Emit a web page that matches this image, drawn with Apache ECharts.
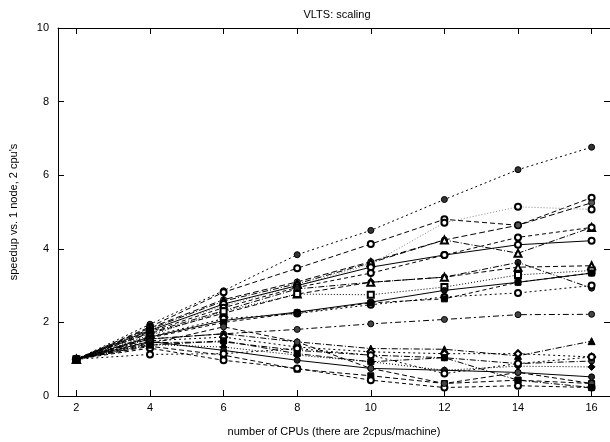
<!DOCTYPE html>
<html>
<head>
<meta charset="utf-8">
<script src="https://cdn.jsdelivr.net/npm/echarts@6/dist/echarts.min.js"></script>
<style>
html,body{margin:0;padding:0;background:#fff;}
#c{width:610px;height:442px;}
</style>
</head>
<body>
<div id="c"></div>
<script>
// CPU counts (x values) and tick labels
var cpus = [2, 4, 6, 8, 10, 12, 14, 16];
var yTicks = [0, 2, 4, 6, 8, 10];

// speedup per benchmark (one array per series)
var s01 = [1, 1.95, 2.86, 3.84, 4.50, 5.34, 6.15, 6.76];
var s02 = [1, 1.88, 2.82, 3.47, 4.13, 4.80, 4.64, 5.39];
var s03 = [1, 1.80, 2.45, 3.00, 3.58, 4.71, 5.14, 5.07];
var s04 = [1, 1.85, 2.62, 3.10, 3.65, 4.24, 4.64, 5.25];
var s05 = [1, 1.82, 2.58, 3.05, 3.62, 4.24, 3.88, 4.58];
var s06 = [1, 1.78, 2.50, 3.00, 3.50, 3.83, 4.11, 4.22];
var s07 = [1, 1.75, 2.40, 2.95, 3.34, 3.83, 4.31, 4.58];
var s08 = [1, 1.72, 2.32, 2.91, 3.09, 3.23, 3.63, 2.93];
var s09 = [1, 1.70, 2.25, 2.77, 3.09, 3.23, 3.50, 3.54];
var s10 = [1, 1.65, 2.30, 2.77, 2.75, 2.96, 3.29, 3.41];
var s11 = [1, 1.60, 2.05, 2.28, 2.55, 2.87, 3.09, 3.34];
var s12 = [1, 1.62, 2.10, 2.24, 2.48, 2.69, 2.80, 3.00];
var s13 = [1, 1.58, 2.00, 2.26, 2.53, 2.64, 3.09, 3.34];
var s14 = [1, 1.55, 1.69, 1.81, 1.96, 2.08, 2.21, 2.22];
var s15 = [1, 1.55, 1.69, 1.47, 1.29, 1.27, 1.09, 1.49];
var s16 = [1, 1.50, 1.60, 1.33, 1.20, 1.15, 1.15, 1.06];
var s17 = [1, 1.45, 1.47, 1.24, 1.11, 1.04, 0.88, 0.95];
var s18 = [1, 1.40, 1.33, 1.11, 0.93, 0.70, 0.81, 0.79];
var s19 = [1, 1.48, 1.24, 0.97, 0.75, 0.70, 0.64, 0.52];
var s20 = [1, 1.35, 1.11, 0.73, 0.55, 0.34, 0.43, 0.34];
var s21 = [1, 1.30, 0.97, 0.75, 0.43, 0.23, 0.28, 0.23];
var s22 = [1, 1.13, 1.15, 1.29, 1.11, 0.61, 0.88, 1.06];
var s23 = [1, 1.42, 1.88, 1.47, 0.75, 0.34, 0.64, 0.34];
var s24 = [1, 1.38, 1.50, 1.15, 0.93, 1.04, 0.43, 0.23];

var allSeries = [s01,s02,s03,s04,s05,s06,s07,s08,s09,s10,s11,s12,s13,s14,s15,s16,s17,s18,s19,s20,s21,s22,s23,s24];

// styling (not data)
var dashes = [[2,3],[5,3],[1,2],[6,3],[6,2,1,2],'solid',[4,3],[6,2,1,2],[5,3],[1,2],'solid',[2,3],[4,3],[6,3,2,3],
              [6,2,1,2],[2,3],[6,2,1,2],[1,2],'solid',[5,3],[4,3],[2,3],[5,3],[6,2,1,2]];
var symbols = ['circle','emptyCircle','emptyCircle','circle','emptyTriangle','emptyCircle','emptyCircle','circle','emptyTriangle','emptyRect','circle','emptyCircle','rect','circle',
               'triangle','emptyDiamond','circle','diamond','circle','rect','emptyCircle','emptyCircle','circle','rect'];
var fills = ['#333','#fff','#fff','#555','#fff','#fff','#fff','#222','#fff','#fff','#111','#fff','#000','#444',
             '#000','#fff','#333','#000','#222','#000','#fff','#fff','#444','#000'];
var lineColors = ['#000','#000','#888','#000','#000','#000','#000','#000','#000','#000','#000','#000','#000','#000',
                  '#000','#000','#000','#000','#000','#000','#000','#000','#000','#000'];

var series = allSeries.map(function (vals, k) {
  var isEmpty = symbols[k].indexOf('empty') === 0;
  return {
    type: 'line',
    data: cpus.map(function (x, i) { return [x, vals[i]]; }),
    symbol: symbols[k],
    symbolSize: symbols[k].indexOf('riangle') >= 0 || symbols[k].indexOf('iamond') >= 0 ? 7 : 6,
    lineStyle: { color: lineColors[k], width: 1, type: dashes[k] },
    itemStyle: { color: isEmpty ? '#000' : fills[k], borderColor: '#000', borderWidth: 1 },
    emphasis: { disabled: true },
    z: 2 + k
  };
});

var axisCommon = {
  axisLine: { show: true, onZero: false, lineStyle: { color: '#000', width: 1 } },
  splitLine: { show: false }
};

var chart = echarts.init(document.getElementById('c'), null, { renderer: 'canvas' });
chart.setOption({
  animation: false,
  backgroundColor: '#fff',
  textStyle: { fontFamily: 'Liberation Sans, Arial, sans-serif' },
  title: {
    text: 'VLTS: scaling',
    left: 332,
    textAlign: 'center',
    top: 4,
    textStyle: { fontSize: 11, fontWeight: 'normal', color: '#000', fontFamily: 'Liberation Sans, Arial, sans-serif' }
  },
  grid: { left: 54, top: 28, width: 557, height: 370, containLabel: false },
  xAxis: [
    Object.assign({
      type: 'value', min: 1.5, max: 16.5, position: 'bottom',
      axisTick: { show: true, inside: true, length: 6, customValues: cpus, lineStyle: { color: '#000' } },
      axisLabel: { show: true, customValues: cpus, color: '#000', fontSize: 11, margin: 6,
                   fontFamily: 'Liberation Sans, Arial, sans-serif' },
      name: 'number of CPUs (there are 2cpus/machine)',
      nameLocation: 'middle', nameGap: 30,
      nameTextStyle: { color: '#000', fontSize: 11, fontFamily: 'Liberation Sans, Arial, sans-serif' }
    }, axisCommon),
    Object.assign({
      type: 'value', min: 1.5, max: 16.5, position: 'top',
      axisTick: { show: true, inside: true, length: 6, customValues: cpus, lineStyle: { color: '#000' } },
      axisLabel: { show: false }
    }, axisCommon)
  ],
  yAxis: [
    Object.assign({
      type: 'value', min: 0, max: 10, interval: 2, position: 'left',
      axisTick: { show: true, inside: true, length: 6, customValues: yTicks, lineStyle: { color: '#000' } },
      axisLabel: { show: true, customValues: yTicks, color: '#000', fontSize: 11, margin: 9,
                   fontFamily: 'Liberation Sans, Arial, sans-serif' },
      name: "speedup vs. 1 node, 2 cpu's",
      nameLocation: 'middle', nameGap: 39, nameRotate: 90,
      nameTextStyle: { color: '#000', fontSize: 11, fontFamily: 'Liberation Sans, Arial, sans-serif' }
    }, axisCommon),
    {
      type: 'value', min: 0, max: 10, interval: 2, position: 'right',
      axisLine: { show: false },
      splitLine: { show: false },
      axisTick: { show: true, inside: true, length: 6, customValues: yTicks, lineStyle: { color: '#000' } },
      axisLabel: { show: false }
    }
  ],
  series: series
});
</script>
</body>
</html>
